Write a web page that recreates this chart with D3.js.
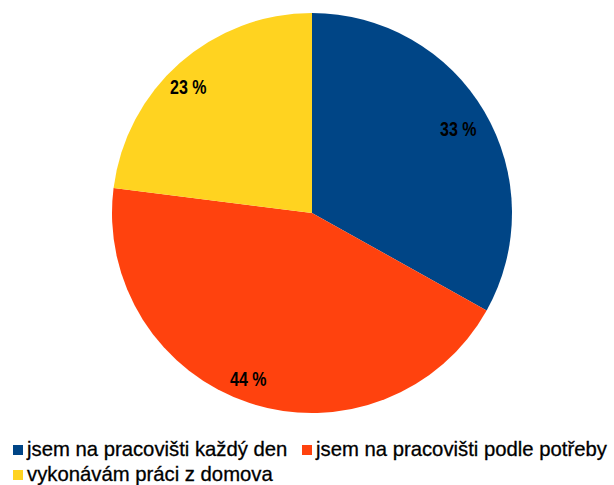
<!DOCTYPE html>
<html>
<head>
<meta charset="utf-8">
<script src="https://cdn.jsdelivr.net/npm/d3@7"></script>
<style>
  body { margin: 0; background: #fff; }
  svg { display: block; }
</style>
</head>
<body>
<div id="chart"></div>
<script>
// data
var categories = ["jsem na pracovišti každý den", "jsem na pracovišti podle potřeby", "vykonávám práci z domova"];
var values = [33.1, 43.9, 23.0];
var valueLabels = ["33 %", "44 %", "23 %"];
var colors = ["#004586", "#ff420e", "#ffd320"];

var svgWidth = 614;
var svgHeight = 485;

var cx = 312;
var cy = 213;
var radius = 200;

var svg = d3.select("#chart")
  .append("svg")
  .attr("width", svgWidth)
  .attr("height", svgHeight);

var pieData = d3.pie()
  .sort(null)
  .value(d => d)(values);

var arc = d3.arc()
  .innerRadius(0)
  .outerRadius(radius);

var labelArc = d3.arc()
  .innerRadius(172)
  .outerRadius(172);

var pieGroup = svg.append("g")
  .attr("transform", `translate(${cx}, ${cy})`);

pieGroup.selectAll("path")
  .data(pieData)
  .enter()
  .append("path")
  .attr("d", arc)
  .attr("fill", (d, i) => colors[i]);

// labels on the left half sit a bit further out to the left
// narrow bold look: squeeze bold text horizontally
pieGroup.selectAll("text")
  .data(pieData)
  .enter()
  .append("text")
  .attr("transform", d => {
    var c = labelArc.centroid(d);
    var shift = c[0] < 0 ? -10 : -2;
    return `translate(${c[0] + shift}, ${c[1] + 3}) scale(0.82, 1)`;
  })
  .attr("text-anchor", "middle")
  .attr("dy", "0.35em")
  .attr("font-family", "Liberation Sans, Arial, sans-serif")
  .attr("font-weight", "bold")
  .attr("font-size", "19.5px")
  .attr("fill", "#000")
  .text((d, i) => valueLabels[i]);

// legend
var legendPos = [[13, 449], [302, 449], [13, 474]];

var legend = svg.selectAll(".legend")
  .data(categories)
  .enter()
  .append("g")
  .attr("class", "legend")
  .attr("transform", (d, i) => `translate(${legendPos[i][0]}, ${legendPos[i][1]})`);

legend.append("rect")
  .attr("x", 0)
  .attr("y", -4)
  .attr("width", 10)
  .attr("height", 10)
  .attr("fill", (d, i) => colors[i]);

legend.append("text")
  .attr("x", 14)
  .attr("y", 0)
  .attr("dy", "0.35em")
  .attr("font-family", "Liberation Sans, Arial, sans-serif")
  .attr("font-size", "20.3px")
  .attr("fill", "#000")
  .attr("stroke", "#000")
  .attr("stroke-width", 0.3)
  .text(d => d);
</script>
</body>
</html>
